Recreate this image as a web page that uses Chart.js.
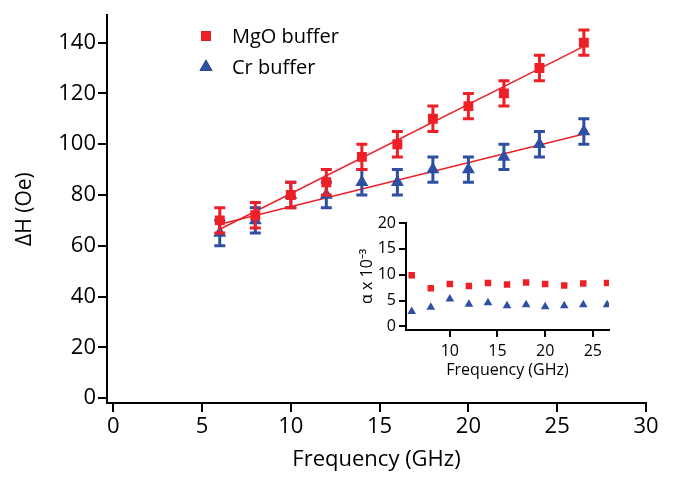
<!DOCTYPE html>
<html>
<head>
<meta charset="utf-8">
<script src="https://cdn.jsdelivr.net/npm/chart.js@4"></script>
<style>
  body { margin: 0; background: #fff; }
  #wrap { position: relative; width: 673px; height: 477px; }
  #mainChart { position: absolute; left: 0; top: 0; }
  #insetChart { position: absolute; left: 330px; top: 210px; }
</style>
</head>
<body>
<div id="wrap">
  <canvas id="mainChart" width="673" height="477"></canvas>
  <canvas id="insetChart" width="300" height="175"></canvas>
</div>
<script>
// frequency points (GHz), shared by both panels
const freq = [6, 8, 10, 12, 14, 16, 18, 20, 22, 24, 26.5];

// linewidth dH (Oe) with error bars
const mgoWidth = [70, 72, 80, 85, 95, 100, 110, 115, 120, 130, 140];
const mgoErr   = [5, 5, 5, 5, 5, 5, 5, 5, 5, 5, 5];
const crWidth  = [65, 70, 80, 80, 85, 85, 90, 90, 95, 100, 105];
const crErr    = [5, 5, 5, 5, 5, 5, 5, 5, 5, 5, 5];

// linear fits (end points)
const fitX   = [6, 26.5];
const mgoFit = [66.5, 138.5];
const crFit  = [68.5, 104];

// inset: damping alpha x 10^-3
const mgoAlpha = [9.9, 7.4, 8.2, 7.8, 8.4, 8.1, 8.5, 8.2, 7.9, 8.3, 8.4];
const crAlpha  = [2.9, 3.7, 5.3, 4.3, 4.6, 4.0, 4.2, 3.8, 4.0, 4.2, 4.2];

// tick labels
const mainXTicks  = [0, 5, 10, 15, 20, 25, 30];
const mainYTicks  = [0, 20, 40, 60, 80, 100, 120, 140];
const insetXTicks = [10, 15, 20, 25];
const insetYTicks = [0, 5, 10, 15, 20];

const seriesNames = ['MgO buffer', 'Cr buffer'];
const RED = '#ed2027';
const BLUE = '#2e4fa2';
const FONT = 'Open Sans';

function pts(xs, ys) {
  return xs.map((x, i) => ({ x: x, y: ys[i] }));
}

// draws vertical error bars right after each dataset that has "errors"
const errorBars = {
  id: 'errorBars',
  afterDatasetDraw(chart, args) {
    const ds = chart.data.datasets[args.index];
    if (!ds.errors) return;
    const ctx = chart.ctx;
    const xs = chart.scales.x, ys = chart.scales.y;
    ctx.save();
    ctx.strokeStyle = ds.backgroundColor;
    ctx.lineWidth = 3;
    ds.data.forEach((p, i) => {
      const px = xs.getPixelForValue(p.x);
      const top = ys.getPixelForValue(p.y + ds.errors[i]);
      const bot = ys.getPixelForValue(p.y - ds.errors[i]);
      ctx.beginPath();
      ctx.moveTo(px, top); ctx.lineTo(px, bot);
      ctx.moveTo(px - 5.5, top); ctx.lineTo(px + 5.5, top);
      ctx.moveTo(px - 5.5, bot); ctx.lineTo(px + 5.5, bot);
      ctx.stroke();
    });
    ctx.restore();
  }
};

// legend drawn inside the plot, top left
const insideLegend = {
  id: 'insideLegend',
  afterDraw(chart) {
    const ctx = chart.ctx;
    ctx.save();
    ctx.font = '20px "' + FONT + '"';
    ctx.textBaseline = 'middle';
    [0, 1].forEach(i => {
      const ds = chart.data.datasets[i];
      const y = 36 + i * 31;
      Chart.helpers.drawPoint(ctx, {
        pointStyle: ds.pointStyle, radius: ds.pointRadius, borderWidth: 0, rotation: 0
      }, 206, y);
      ctx.fillStyle = ds.backgroundColor;
      ctx.fill();
      ctx.fillStyle = '#000';
      ctx.fillText(ds.label, 232, y + 1);
    });
    ctx.restore();
  }
};

function axisStyle(size, tickLen, pad) {
  return {
    border: { color: '#000', width: 2 },
    grid: { drawOnChartArea: false, color: '#000', lineWidth: 2, tickLength: tickLen },
    ticks: { color: '#000', font: { family: FONT, size: size }, padding: pad,
             autoSkip: false, maxRotation: 0 }
  };
}

new Chart(document.getElementById('mainChart'), {
  type: 'scatter',
  data: {
    datasets: [
      {
        label: seriesNames[0],
        data: pts(freq, mgoWidth),
        errors: mgoErr,
        pointStyle: 'rect',
        pointRadius: 7,
        backgroundColor: RED,
        borderWidth: 0
      },
      {
        label: seriesNames[1],
        data: pts(freq, crWidth),
        errors: crErr,
        pointStyle: 'triangle',
        pointRadius: 7.5,
        backgroundColor: BLUE,
        borderWidth: 0
      },
      {
        label: 'MgO fit',
        data: pts(fitX, mgoFit),
        showLine: true,
        pointRadius: 0,
        borderColor: RED,
        borderWidth: 1.5
      },
      {
        label: 'Cr fit',
        data: pts(fitX, crFit),
        showLine: true,
        pointRadius: 0,
        borderColor: RED,
        borderWidth: 1.5
      }
    ]
  },
  options: {
    responsive: false,
    animation: false,
    layout: { padding: { top: 6, right: 27, left: 0, bottom: 0 } },
    plugins: { legend: { display: false }, tooltip: { enabled: false } },
    scales: {
      x: Object.assign(axisStyle(22, 9, 2), {
        type: 'linear',
        min: -0.35,
        max: 30,
        afterBuildTicks: s => { s.ticks = mainXTicks.map(v => ({ value: v })); },
        afterFit: s => { s.height = 74; },
        title: { display: true, text: 'Frequency (GHz)', color: '#000',
                 font: { family: FONT, size: 22 }, padding: { top: 0, bottom: 4 } }
      }),
      y: Object.assign(axisStyle(22, 9, 2), {
        min: -1.9,
        max: 150.8,
        afterBuildTicks: s => { s.ticks = mainYTicks.map(v => ({ value: v })); },
        afterFit: s => { s.width = 107; },
        title: { display: true, text: 'ΔH (Oe)', color: '#000',
                 font: { family: FONT, size: 21 }, padding: { top: 12, bottom: 0 } }
      })
    }
  },
  plugins: [errorBars, insideLegend]
});

new Chart(document.getElementById('insetChart'), {
  type: 'scatter',
  data: {
    datasets: [
      {
        label: seriesNames[0],
        data: pts(freq, mgoAlpha),
        pointStyle: 'rect',
        pointRadius: 4.6,
        backgroundColor: RED,
        borderWidth: 0
      },
      {
        label: seriesNames[1],
        data: pts(freq, crAlpha),
        pointStyle: 'triangle',
        pointRadius: 5,
        backgroundColor: BLUE,
        borderWidth: 0
      }
    ]
  },
  options: {
    responsive: false,
    animation: false,
    layout: { padding: { top: 11, right: 21, left: 0, bottom: 0 } },
    plugins: { legend: { display: false }, tooltip: { enabled: false } },
    scales: {
      x: Object.assign(axisStyle(16, 7, 5), {
        type: 'linear',
        min: 5.4,
        max: 26.7,
        afterBuildTicks: s => { s.ticks = insetXTicks.map(v => ({ value: v })); },
        afterFit: s => { s.height = 55; },
        title: { display: true, text: 'Frequency (GHz)', color: '#000',
                 font: { family: FONT, size: 16 }, padding: { top: 0, bottom: 5 } }
      }),
      y: Object.assign(axisStyle(16, 7, 3), {
        min: -0.7,
        max: 20.1,
        afterBuildTicks: s => { s.ticks = insetYTicks.map(v => ({ value: v })); },
        afterFit: s => { s.width = 76; },
        title: { display: true, text: 'α x 10⁻³', color: '#000',
                 font: { family: FONT, size: 16 }, padding: { top: 28, bottom: 0 } }
      })
    }
  }
});
</script>
</body>
</html>
